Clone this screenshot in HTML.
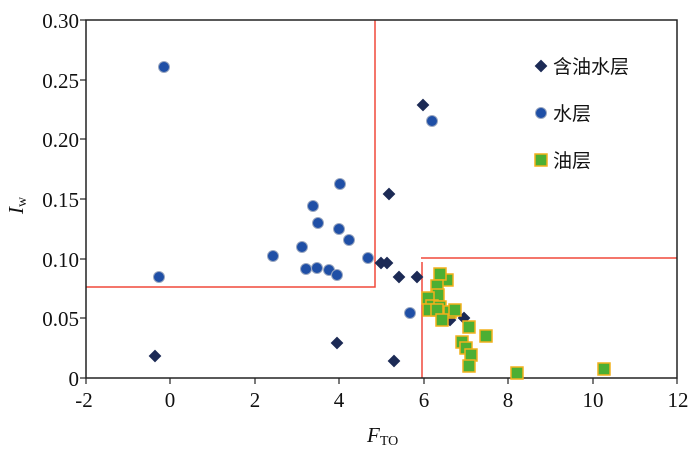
<!DOCTYPE html>
<html><head><meta charset="utf-8"><style>
body{margin:0;background:#fff}
</style></head><body>
<svg width="700" height="452" viewBox="0 0 700 452" xmlns="http://www.w3.org/2000/svg" font-family="'Liberation Serif','Noto Serif CJK SC',serif" fill="#111">
<defs>
<g id="d"><rect x="-4.5" y="-4.5" width="9" height="9" fill="#1c2a55" transform="rotate(45)"/></g>
<g id="c"><circle r="5.5" fill="#1f4fa6" stroke="#9aa7c0" stroke-width="1"/></g>
<g id="s"><rect x="-6" y="-6" width="12" height="12" fill="#4caf33" stroke="#f2b01c" stroke-width="1.5"/></g>
</defs>
<g stroke="#f0483a" stroke-width="1.5" fill="none">
<polyline points="86,287 375,287 375,20"/>
<polyline points="422,378 422,262"/>
<polyline points="421,258 677,258"/>
</g>
<rect x="86" y="20" width="591" height="358" fill="none" stroke="#222" stroke-width="1.5"/>
<g stroke="#222" stroke-width="1.2">
<line x1="80" y1="20" x2="86" y2="20"/><line x1="80" y1="80" x2="86" y2="80"/><line x1="80" y1="139" x2="86" y2="139"/><line x1="80" y1="199" x2="86" y2="199"/><line x1="80" y1="259" x2="86" y2="259"/><line x1="80" y1="318" x2="86" y2="318"/><line x1="80" y1="378" x2="86" y2="378"/>
<line x1="86" y1="378" x2="86" y2="384"/><line x1="170" y1="378" x2="170" y2="384"/><line x1="255" y1="378" x2="255" y2="384"/><line x1="339" y1="378" x2="339" y2="384"/><line x1="424" y1="378" x2="424" y2="384"/><line x1="508" y1="378" x2="508" y2="384"/><line x1="593" y1="378" x2="593" y2="384"/><line x1="677" y1="378" x2="677" y2="384"/>
</g>
<g font-size="21" text-anchor="end" font-family="'Liberation Serif',serif">
<text x="79" y="28">0.30</text><text x="79" y="88">0.25</text><text x="79" y="147">0.20</text><text x="79" y="207">0.15</text><text x="79" y="267">0.10</text><text x="79" y="326">0.05</text><text x="79" y="386">0</text>
</g>
<g font-size="21" text-anchor="middle" font-family="'Liberation Serif',serif">
<text x="84" y="407">-2</text><text x="170" y="407">0</text><text x="255" y="407">2</text><text x="339" y="407">4</text><text x="424" y="407">6</text><text x="508" y="407">8</text><text x="593" y="407">10</text><text x="678" y="407">12</text>
</g>
<text x="367" y="442" font-size="21" font-style="italic" font-family="'Liberation Serif',serif">F<tspan font-size="14" font-style="normal" dy="3">TO</tspan></text>
<text transform="translate(23,214) rotate(-90)" font-size="21" font-style="italic" font-family="'Liberation Serif',serif">I<tspan font-size="14" font-style="normal" dy="3">w</tspan></text>
<g>
<use href="#c" x="164" y="67"/><use href="#c" x="159" y="277"/><use href="#c" x="432" y="121"/>
<use href="#c" x="340" y="184"/><use href="#c" x="313" y="206"/><use href="#c" x="318" y="223"/><use href="#c" x="339" y="229"/><use href="#c" x="349" y="240"/><use href="#c" x="302" y="247"/><use href="#c" x="273" y="256"/><use href="#c" x="306" y="269"/><use href="#c" x="317" y="268"/><use href="#c" x="329" y="270"/><use href="#c" x="337" y="275"/><use href="#c" x="368" y="258"/><use href="#c" x="410" y="313"/>
</g>
<g>
<use href="#d" x="155" y="356"/><use href="#d" x="423" y="105"/><use href="#d" x="389" y="194"/><use href="#d" x="381" y="263"/><use href="#d" x="387" y="263"/><use href="#d" x="399" y="277"/><use href="#d" x="417" y="277"/><use href="#d" x="337" y="343"/><use href="#d" x="394" y="361"/><use href="#d" x="464" y="318"/><use href="#d" x="450" y="320"/>
</g>
<g>
<use href="#s" x="447" y="280"/><use href="#s" x="440" y="274"/><use href="#s" x="437" y="286"/><use href="#s" x="438" y="295"/><use href="#s" x="428" y="298"/><use href="#s" x="432" y="306"/><use href="#s" x="429" y="310"/><use href="#s" x="440" y="307"/><use href="#s" x="437" y="310"/><use href="#s" x="450" y="312"/><use href="#s" x="442" y="320"/><use href="#s" x="455" y="310"/><use href="#s" x="469" y="327"/><use href="#s" x="486" y="336"/><use href="#s" x="462" y="342"/><use href="#s" x="466" y="348"/><use href="#s" x="471" y="355"/><use href="#s" x="469" y="366"/><use href="#s" x="517" y="373"/><use href="#s" x="604" y="369"/>
</g>
<use href="#d" x="541" y="66"/><text x="553" y="73" font-size="19" font-family="'Noto Sans CJK SC',sans-serif">含油水层</text>
<use href="#c" x="541" y="113"/><text x="553" y="120" font-size="19" font-family="'Noto Sans CJK SC',sans-serif">水层</text>
<use href="#s" x="541" y="160"/><text x="553" y="167" font-size="19" font-family="'Noto Sans CJK SC',sans-serif">油层</text>
</svg>
</body></html>
